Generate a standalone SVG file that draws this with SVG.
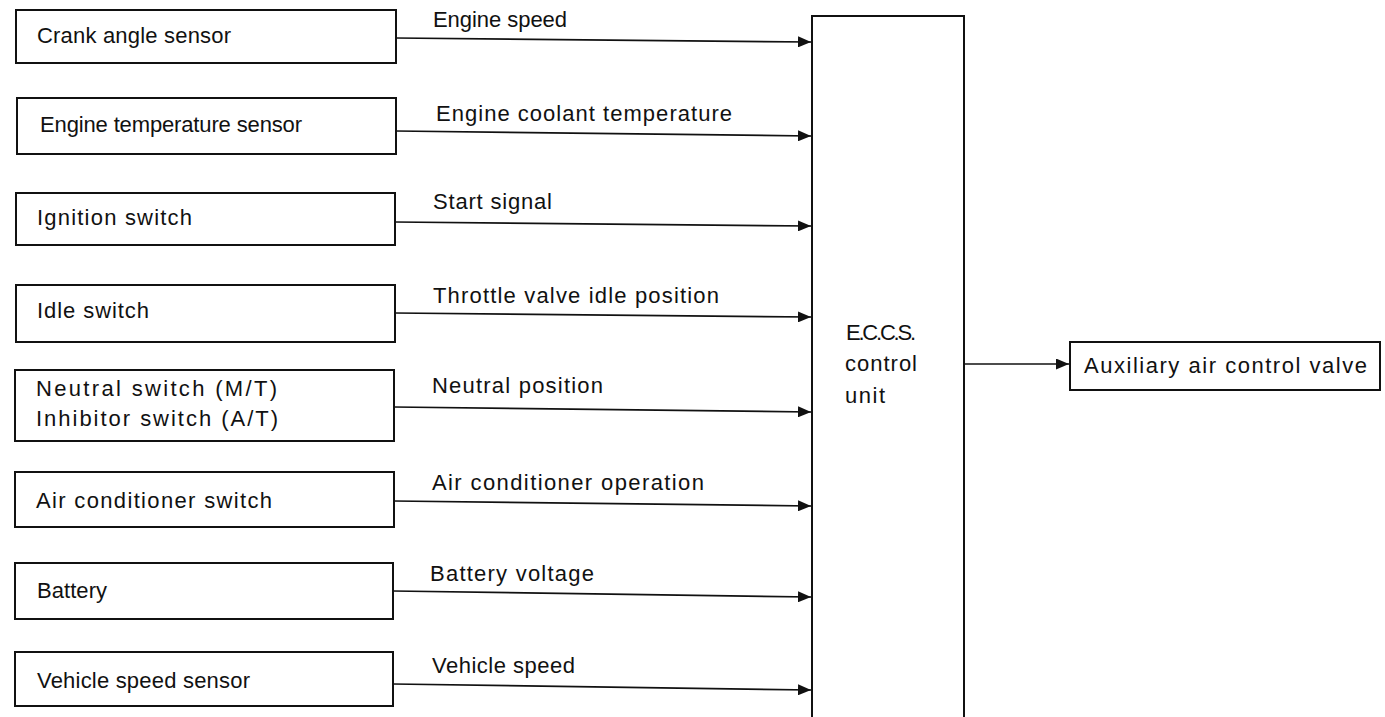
<svg xmlns="http://www.w3.org/2000/svg" width="1385" height="717" viewBox="0 0 1385 717">
<style>
.box{fill:#fff;stroke:#111;stroke-width:2}
.t{font-family:"Liberation Sans",Arial,sans-serif;font-size:22px;fill:#111}
.c{stroke:#111;stroke-width:1.7;fill:none}
</style>
<defs>
<marker id="ah" markerUnits="userSpaceOnUse" markerWidth="13" markerHeight="11" refX="13" refY="5.5" orient="auto">
<path d="M0,0 L13,5.5 L0,11 z" fill="#111"/>
</marker>
</defs>
<rect width="1385" height="717" fill="#fff"/>
<g id="n1"><rect class="box" x="16" y="10" width="380" height="53"/><text class="t" x="37" y="43" textLength="194">Crank angle sensor</text></g>
<g id="n2"><rect class="box" x="17" y="98" width="379" height="56"/><text class="t" x="40" y="132" textLength="262">Engine temperature sensor</text></g>
<g id="n3"><rect class="box" x="16" y="193" width="379" height="52"/><text class="t" x="37" y="225" textLength="155">Ignition switch</text></g>
<g id="n4"><rect class="box" x="16" y="285" width="379" height="57"/><text class="t" x="37" y="318" textLength="112">Idle switch</text></g>
<g id="n5"><rect class="box" x="15" y="370" width="379" height="71"/><text class="t" x="36" y="396" textLength="241">Neutral switch (M/T)</text><text class="t" x="36" y="426" textLength="242">Inhibitor switch (A/T)</text></g>
<g id="n6"><rect class="box" x="15" y="472" width="379" height="55"/><text class="t" x="36" y="508" textLength="236">Air conditioner switch</text></g>
<g id="n7"><rect class="box" x="15" y="563" width="378" height="56"/><text class="t" x="37" y="598" textLength="70">Battery</text></g>
<g id="n8"><rect class="box" x="15" y="652" width="378" height="54"/><text class="t" x="37" y="688" textLength="213">Vehicle speed sensor</text></g>
<g id="eccs"><rect class="box" x="812" y="16" width="152" height="712"/><text class="t" x="846" y="340" textLength="70">E.C.C.S.</text><text class="t" x="845" y="371" textLength="72">control</text><text class="t" x="845" y="403" textLength="40">unit</text></g>
<g id="aux"><rect class="box" x="1070" y="342" width="310" height="48"/><text class="t" x="1084" y="373" textLength="283">Auxiliary air control valve</text></g>
<g id="connectors">
<line class="c" x1="396" y1="38" x2="811" y2="42" marker-end="url(#ah)"/>
<line class="c" x1="396" y1="131" x2="811" y2="136" marker-end="url(#ah)"/>
<line class="c" x1="395" y1="222" x2="811" y2="226" marker-end="url(#ah)"/>
<line class="c" x1="395" y1="313" x2="811" y2="317" marker-end="url(#ah)"/>
<line class="c" x1="394" y1="407" x2="811" y2="412" marker-end="url(#ah)"/>
<line class="c" x1="394" y1="501" x2="811" y2="506" marker-end="url(#ah)"/>
<line class="c" x1="393" y1="591" x2="811" y2="597" marker-end="url(#ah)"/>
<line class="c" x1="393" y1="684" x2="811" y2="690" marker-end="url(#ah)"/>
<line class="c" x1="964" y1="364" x2="1069" y2="364" marker-end="url(#ah)"/>
<text class="t" x="433" y="27" textLength="134">Engine speed</text>
<text class="t" x="436" y="121" textLength="296">Engine coolant temperature</text>
<text class="t" x="433" y="209" textLength="119">Start signal</text>
<text class="t" x="433" y="303" textLength="286">Throttle valve idle position</text>
<text class="t" x="432" y="393" textLength="171">Neutral position</text>
<text class="t" x="432" y="490" textLength="272">Air conditioner operation</text>
<text class="t" x="430" y="581" textLength="164">Battery voltage</text>
<text class="t" x="432" y="673" textLength="143">Vehicle speed</text>
</g>
</svg>
